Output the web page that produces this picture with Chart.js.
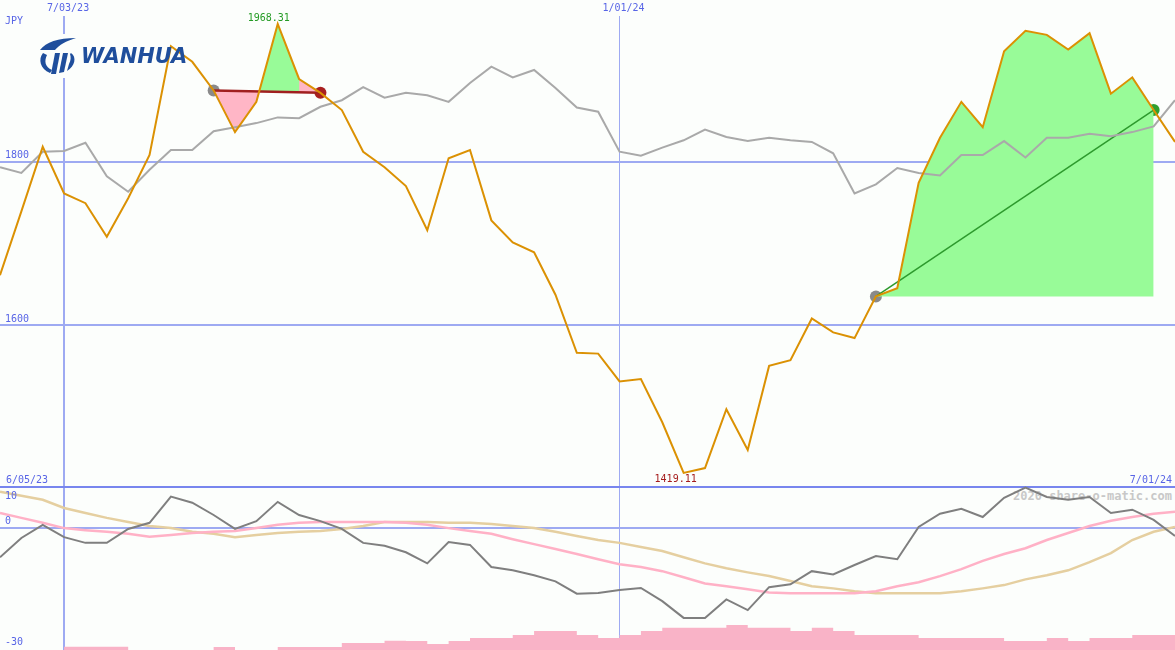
<!DOCTYPE html>
<html>
<head>
<meta charset="utf-8">
<script src="https://cdn.jsdelivr.net/npm/chart.js@4.4.1/dist/chart.umd.min.js"></script>
<style>
  html, body { margin: 0; background: #fcfefc; }
  #wrap { position: relative; width: 1175px; height: 650px; overflow: hidden; font-family: "DejaVu Sans Mono", monospace; font-size: 10px; }
  #priceChart { position: absolute; left: 0; top: 0; }
  #oscChart { position: absolute; left: 0; top: 484px; }
  .lbl { position: absolute; color: #5865e6; line-height: 12px; white-space: nowrap; }
  #mark { position: absolute; right: 3px; top: 489px; color: #c8c8c8; font-weight: bold; font-size: 12px; line-height: 14px; }
  #logo { position: absolute; left: 38px; top: 34px; height: 44px; display: flex; align-items: center; }
  #logo svg { background: #fcfefc; }
  #logo span { margin-left: 3px; font: italic bold 21px "DejaVu Sans", sans-serif; color: #1f4e9c; }
</style>
</head>
<body>
<div id="wrap">
  <div id="mark">2020 share-o-matic.com</div>
  <canvas id="priceChart" width="1175" height="484"></canvas>
  <canvas id="oscChart" width="1175" height="166"></canvas>
  <div class="lbl" style="left:5px; top:15px;">JPY</div>
  <div class="lbl" style="left:6px; top:474px;">6/05/23</div>
  <div class="lbl" style="right:3px; top:474px;">7/01/24</div>
  <div id="logo">
    <svg width="40" height="44" viewBox="0 0 40 44">
      <path d="M2 16 C8 8 20 4 38 4 C28 7 21 11 17 16 Z" fill="#1f4e9c"/>
      <path d="M5 19 C0 25 2 35 12 39 L14 36 C7 33 6 27 9 21 Z" fill="#1f4e9c"/>
      <path d="M17 19 L22 19 L18 40 L13 40 Z" fill="#1f4e9c"/>
      <path d="M25 19 L30 19 L26 38 L21 39 Z" fill="#1f4e9c"/>
      <path d="M33 19 C39 23 37 32 29 37 L31 30 C33 26 33 23 32 20 Z" fill="#1f4e9c"/>
    </svg>
    <span>WANHUA</span>
  </div>
</div>
<script>
// weekly data ------------------------------------
const weeks = ['6/12/23', '6/19/23', '6/26/23', '7/03/23', '7/10/23', '7/17/23', '7/24/23', '7/31/23',
  '8/07/23', '8/14/23', '8/21/23', '8/28/23', '9/04/23', '9/11/23', '9/18/23', '9/25/23',
  '10/02/23', '10/09/23', '10/16/23', '10/23/23', '10/30/23', '11/06/23', '11/13/23', '11/20/23',
  '11/27/23', '12/04/23', '12/11/23', '12/18/23', '12/25/23', '1/01/24', '1/08/24', '1/15/24',
  '1/22/24', '1/29/24', '2/05/24', '2/12/24', '2/19/24', '2/26/24', '3/04/24', '3/11/24',
  '3/18/24', '3/25/24', '4/01/24', '4/08/24', '4/15/24', '4/22/24', '4/29/24', '5/06/24',
  '5/13/24', '5/20/24', '5/27/24', '6/03/24', '6/10/24', '6/17/24', '6/24/24', '7/01/24'];

const price = [1661, 1739, 1818, 1761, 1749, 1708, 1755, 1808, 1941, 1922, 1887, 1836, 1873, 1968.31,
  1901, 1884, 1863, 1812, 1793, 1770, 1716, 1804, 1814, 1728, 1701, 1689, 1637, 1566, 1565, 1531,
  1534, 1481, 1419.11, 1425, 1497, 1447, 1550, 1557, 1608, 1591, 1584, 1635, 1645, 1774, 1829, 1873,
  1842, 1935, 1960, 1955, 1937, 1957, 1883, 1903, 1863, 1824];

const average = [1793, 1786, 1812, 1813, 1823, 1782, 1763, 1790, 1814, 1814, 1837, 1842, 1847, 1854,
  1853, 1867, 1875, 1891, 1878, 1884, 1881, 1873, 1896, 1916, 1903, 1912, 1890, 1866, 1861, 1812,
  1807, 1817, 1826, 1839, 1830, 1825, 1829, 1826, 1824, 1810, 1761, 1772, 1792, 1786, 1783, 1808,
  1808, 1825, 1805, 1829, 1829, 1834, 1831, 1836, 1843, 1875];

const momentum = [-7.2, -2.5, 0.7, -2.3, -3.7, -3.7, -0.3, 1.2, 7.6, 6.1, 3.1, -0.3, 1.6, 6.3, 3.1,
  1.6, -0.3, -3.7, -4.4, -6.0, -8.7, -3.5, -4.2, -9.6, -10.4, -11.6, -13.1, -16.1, -15.9, -15.2,
  -14.7, -17.9, -22.0, -22.0, -17.5, -20.1, -14.5, -13.8, -10.6, -11.4, -9.1, -6.9, -7.7, 0.2, 3.4,
  4.6, 2.6, 7.3, 9.8, 7.5, 6.8, 7.5, 3.6, 4.4, 1.9, -2.0];

const signalFast = [3.6, 2.4, 1.2, -0.1, -0.6, -1.0, -1.5, -2.2, -1.8, -1.3, -1.0, -0.8, -0.1, 0.7,
  1.2, 1.4, 1.4, 1.4, 1.4, 1.2, 0.7, -0.1, -0.8, -1.5, -2.8, -4.0, -5.2, -6.4, -7.7, -8.9, -9.6,
  -10.6, -12.1, -13.6, -14.3, -15.0, -15.8, -16.0, -16.0, -16.0, -16.0, -15.5, -14.3, -13.3, -11.8,
  -10.1, -8.1, -6.4, -5.0, -3.0, -1.3, 0.4, 1.7, 2.6, 3.4, 3.9];

const signalSlow = [8.8, 7.8, 6.8, 4.8, 3.6, 2.4, 1.4, 0.4, -0.1, -1.0, -1.5, -2.3, -1.8, -1.3, -1.0,
  -0.8, -0.3, 0.4, 1.4, 1.4, 1.4, 1.2, 1.2, 0.9, 0.4, -0.1, -1.0, -2.0, -3.0, -3.7, -4.7, -5.7,
  -7.2, -8.7, -9.9, -10.9, -11.8, -13.0, -14.3, -14.8, -15.5, -16.0, -16.0, -16.0, -16.0, -15.5,
  -14.8, -14.0, -12.6, -11.6, -10.4, -8.4, -6.2, -3.0, -1.0, 0.2];

const volume = [0, 0, 0, 1.0, 1.0, 1.0, 0, 0, 0, 0, 0.9, 0, 0, 0.9, 0.9, 0.9, 2.1, 2.1, 2.8, 2.7,
  1.8, 2.7, 3.6, 3.6, 4.5, 5.7, 5.7, 4.5, 3.6, 4.5, 5.7, 6.7, 6.7, 6.7, 7.5, 6.7, 6.7, 5.7, 6.7, 5.7,
  4.5, 4.5, 4.5, 3.6, 3.6, 3.6, 3.6, 2.7, 2.7, 3.6, 2.7, 3.6, 3.6, 4.5, 4.5, 4.5];

const priceTicks = [1600, 1800];
const oscTicks = [10, 0, -30];
const markedWeeks = ['7/03/23', '1/01/24'];
// trades: week index where they open / close
const lossTrade = { from: 10, to: 15 };
const gainTrade = { from: 41, to: 54 };

// colours ------------------------------------
const paper = '#fcfefc';
const gridBlue = '#9eaaf2';
const frameBlue = '#7886ee';
const labelBlue = '#5865e6';
const orange = '#db9103';
const fillGreen = '#98fb98';
const fillPink = '#ffb6c6';
const monoFamily = '"DejaVu Sans Mono", monospace';

Chart.defaults.font.family = monoFamily;
Chart.defaults.font.size = 10;
Chart.defaults.animation = false;
Chart.defaults.plugins.legend.display = false;
Chart.defaults.plugins.tooltip.enabled = false;

// keep only a range of the series
function onlyBetween(arr, a, b) {
  return arr.map((v, i) => (i >= a && i <= b ? v : null));
}
function onlyEnds(arr, a, b) {
  return arr.map((v, i) => (i === a || i === b ? v : null));
}

function weekAxis() {
  return {
    type: 'category',
    offset: false,
    ticks: { display: false, autoSkip: false },
    grid: {
      drawTicks: false,
      color: c => (markedWeeks.includes(weeks[c.index]) ? gridBlue : 'rgba(0,0,0,0)'),
      lineWidth: c => (weeks[c.index] === markedWeeks[0] ? 2 : 1)
    },
    border: { display: false }
  };
}

const baseOptions = {
  responsive: false,
  devicePixelRatio: 1,
  layout: { padding: 0, autoPadding: false },
  elements: { point: { radius: 0, hoverRadius: 0 }, line: { tension: 0 } },
  events: []
};

// y labels sit just above their grid line, kept inside the panel
function drawYLabels(chart, values) {
  const { ctx, scales: { y } } = chart;
  ctx.save();
  ctx.font = '10px ' + monoFamily;
  ctx.fillStyle = labelBlue;
  ctx.textAlign = 'left';
  ctx.textBaseline = 'middle';
  values.forEach(v => {
    let py = y.getPixelForValue(v) - 6;
    py = Math.min(Math.max(py, 12), chart.height - 8);
    ctx.fillText(String(v), 5, py);
  });
  ctx.restore();
}

// price panel text ---------------------------
const priceText = {
  id: 'priceText',
  afterDraw(chart) {
    const { ctx, scales: { x, y } } = chart;
    drawYLabels(chart, priceTicks);
    ctx.save();
    ctx.font = '10px ' + monoFamily;
    ctx.textAlign = 'center';
    ctx.textBaseline = 'middle';
    markedWeeks.forEach(w => {
      const px = x.getPixelForValue(weeks.indexOf(w)) + 4;
      const tw = ctx.measureText(w).width;
      ctx.fillStyle = paper;
      ctx.fillRect(px - tw / 2 - 3, 0, tw + 6, 16);
      ctx.fillStyle = labelBlue;
      ctx.fillText(w, px, 8);
    });
    const hi = price.indexOf(Math.max(...price));
    const lo = price.indexOf(Math.min(...price));
    ctx.fillStyle = '#249b24';
    ctx.fillText(price[hi].toFixed(2), x.getPixelForValue(hi) - 9, y.getPixelForValue(price[hi]) - 6);
    ctx.fillStyle = '#a51c1c';
    ctx.fillText(price[lo].toFixed(2), x.getPixelForValue(lo) - 8, y.getPixelForValue(price[lo]) + 7);
    ctx.restore();
  }
};

const signalDots = price.map((v, i) =>
  [lossTrade.from, lossTrade.to, gainTrade.from, gainTrade.to].includes(i) ? v : null);

new Chart(document.getElementById('priceChart'), {
  type: 'line',
  data: {
    labels: weeks,
    datasets: [
      { label: 'Price', data: price, borderColor: orange, borderWidth: 2, order: 1 },
      { label: 'Average', data: average, borderColor: '#a9a9a9', borderWidth: 2, order: 2 },
      { label: 'Loss trade', data: onlyEnds(price, lossTrade.from, lossTrade.to), spanGaps: true,
        borderColor: '#a01f1f', borderWidth: 2.5, order: 3 },
      { label: 'Gain trade', data: onlyEnds(price, gainTrade.from, gainTrade.to), spanGaps: true,
        borderColor: '#2d9a2d', borderWidth: 1.5, order: 3 },
      { label: 'Loss area', data: onlyBetween(price, lossTrade.from, lossTrade.to),
        borderColor: 'rgba(0,0,0,0)', borderWidth: 0,
        fill: { target: 2, above: fillGreen, below: fillPink }, order: 6 },
      { label: 'Loss tail', data: onlyBetween(price, lossTrade.to - 1, lossTrade.to),
        borderColor: 'rgba(0,0,0,0)', borderWidth: 0,
        fill: { target: 2, above: fillPink, below: fillPink }, order: 5 },
      { label: 'Gain area', data: onlyBetween(price, gainTrade.from, gainTrade.to),
        borderColor: 'rgba(0,0,0,0)', borderWidth: 0, backgroundColor: fillGreen,
        fill: { value: price[gainTrade.from] }, order: 5 },
      { label: 'Signals', data: signalDots, showLine: false, pointRadius: 6, pointBorderWidth: 0,
        pointBackgroundColor: c => (c.dataIndex === lossTrade.to ? '#a82020'
          : c.dataIndex === gainTrade.to ? '#2f9f2f' : '#8a8a8a'), order: 7 }
    ]
  },
  options: {
    ...baseOptions,
    scales: {
      x: weekAxis(),
      y: {
        min: 1405.5,
        max: 1997.6,
        afterBuildTicks: s => { s.ticks = priceTicks.map(v => ({ value: v })); },
        grid: { color: gridBlue, lineWidth: 2, drawTicks: false },
        border: { display: false },
        ticks: { display: false }
      }
    }
  },
  plugins: [priceText]
});

// oscillator panel ----------------------------
const oscText = {
  id: 'oscText',
  afterDraw(chart) {
    drawYLabels(chart, oscTicks);
  }
};

new Chart(document.getElementById('oscChart'), {
  type: 'line',
  data: {
    labels: weeks,
    datasets: [
      { label: 'Momentum', data: momentum, borderColor: '#7f7f7f', borderWidth: 2, order: 1 },
      { label: 'Fast', data: signalFast, borderColor: '#ffb1c6', borderWidth: 2.5, order: 2 },
      { label: 'Slow', data: signalSlow, borderColor: '#e5cfa0', borderWidth: 2.5, order: 3 },
      { label: 'Volume', data: volume, yAxisID: 'yv', stepped: 'before', fill: 'start',
        backgroundColor: '#f9b3c7', borderColor: 'rgba(0,0,0,0)', borderWidth: 0, order: 4 }
    ]
  },
  options: {
    ...baseOptions,
    scales: {
      x: weekAxis(),
      y: {
        min: -29.83,
        max: 10.66,
        afterBuildTicks: s => { s.ticks = [oscTicks[0], oscTicks[1]].map(v => ({ value: v })); },
        grid: {
          drawTicks: false,
          color: c => (c.tick && c.tick.value === oscTicks[0] ? frameBlue : gridBlue),
          lineWidth: 2
        },
        border: { display: false },
        ticks: { display: false }
      },
      yv: { display: false, min: 0, max: 50 }
    }
  },
  plugins: [oscText]
});
</script>
</body>
</html>
